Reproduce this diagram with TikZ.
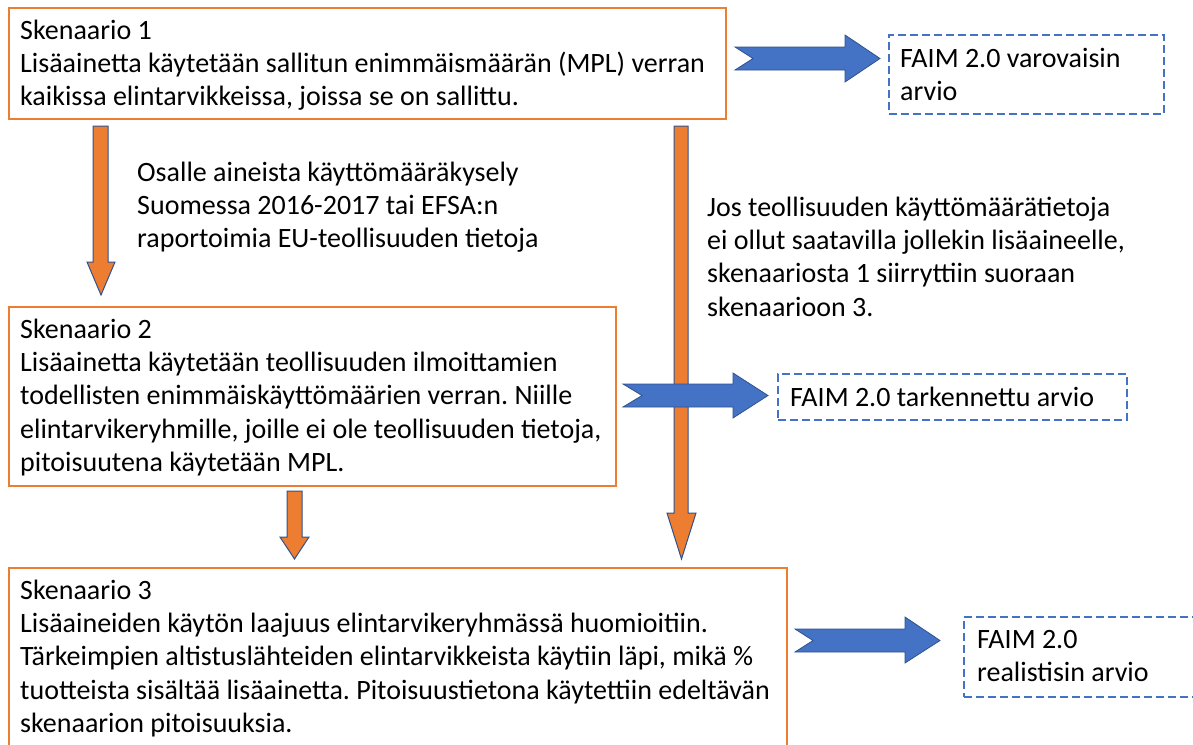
\documentclass[tikz,border=0pt]{standalone}
\usepackage{fontspec}
\setmainfont{Carlito}
\frenchspacing
\definecolor{orgline}{HTML}{ED7D31}
\definecolor{bluefill}{HTML}{4472C4}
\definecolor{blueline}{HTML}{2F528F}
\tikzset{
  scen/.style={draw=orgline, line width=2.2pt, anchor=north west, inner sep=0pt, outer sep=0pt},
  result/.style={draw=bluefill, dash pattern=on 8pt off 4pt, line width=2.4pt, anchor=north west, inner sep=0pt, outer sep=0pt},
  txt/.style={anchor=base west, inner sep=0pt, align=left, font=\fontsize{28}{33.4}\selectfont\frenchspacing},
  blockarrow/.style={fill=bluefill, draw=blueline, line width=0.8pt, line join=miter},
  downarrow/.style={fill=orgline, draw=blueline, line width=1pt, line join=miter}
}
\begin{document}
\begin{tikzpicture}[x=1pt,y=-1pt]
\useasboundingbox (0,0) rectangle (1193,744);
% scenario boxes
\node[scen, minimum width=717, minimum height=111] (s1) at (9,8) {};
\node[scen, minimum width=607, minimum height=179] (s2) at (9,307) {};
\node[scen, minimum width=778, minimum height=190] (s3) at (9,568) {};
% result boxes
\node[result, minimum width=275, minimum height=79] (r1) at (889,35) {};
\node[result, minimum width=349, minimum height=46] (r2) at (778,374) {};
\node[result, minimum width=240, minimum height=80] (r3) at (964,617) {};
% down arrows
\draw[downarrow] (93,126) -- (108,126) -- (108,262) -- (115,262) -- (101,295) -- (87,262) -- (93,262) -- cycle;
\draw[downarrow] (674,126) -- (688,126) -- (688,513) -- (696,513) -- (681.5,559) -- (667,513) -- (674,513) -- cycle;
\draw[downarrow] (287,491) -- (302,491) -- (302,537) -- (309,537) -- (294.5,559) -- (280,537) -- (287,537) -- cycle;
% blue block arrows
\draw[blockarrow] (735,47) -- (845,47) -- (845,35) -- (880,58.5) -- (845,82) -- (845,70) -- (735,70) -- (753,58.5) -- cycle;
\draw[blockarrow] (623,384) -- (733,384) -- (733,373) -- (768,395.5) -- (733,418) -- (733,407) -- (623,407) -- (642,395.5) -- cycle;
\draw[blockarrow] (795,629) -- (905,629) -- (905,617) -- (940,640.5) -- (905,663) -- (905,652) -- (795,652) -- (813,640.5) -- cycle;
% texts (anchored at the baseline of the last line)
\node[txt] (t1) at (20,105.8) {Skenaario 1\\Lisäainetta käytetään sallitun enimmäismäärän (MPL) verran\\kaikissa elintarvikkeissa, joissa se on sallittu.};
\node[txt] (t2) at (20,471.6) {Skenaario 2\\Lisäainetta käytetään teollisuuden ilmoittamien\\todellisten enimmäiskäyttömäärien verran. Niille\\elintarvikeryhmille, joille ei ole teollisuuden tietoja,\\pitoisuutena käytetään MPL.};
\node[txt] (t3) at (20,732.6) {Skenaario 3\\Lisäaineiden käytön laajuus elintarvikeryhmässä huomioitiin.\\Tärkeimpien altistuslähteiden elintarvikkeista käytiin läpi, mikä \%\\tuotteista sisältää lisäainetta. Pitoisuustietona käytettiin edeltävän\\skenaarion pitoisuuksia.};
\node[txt] (l1) at (137,247.8) {Osalle aineista käyttömääräkysely\\Suomessa 2016-2017 tai EFSA:n\\raportoimia EU-teollisuuden tietoja};
\node[txt] (l2) at (707,316.2) {Jos teollisuuden käyttömäärätietoja\\ei ollut saatavilla jollekin lisäaineelle,\\skenaariosta 1 siirryttiin suoraan\\skenaarioon 3.};
\node[txt] (f1) at (900,100.4) {FAIM 2.0 varovaisin\\arvio};
\node[txt] (f2) at (790,406) {FAIM 2.0 tarkennettu arvio};
\node[txt] (f3) at (977,681.4) {FAIM 2.0\\realistisin arvio};
\end{tikzpicture}
\end{document}
